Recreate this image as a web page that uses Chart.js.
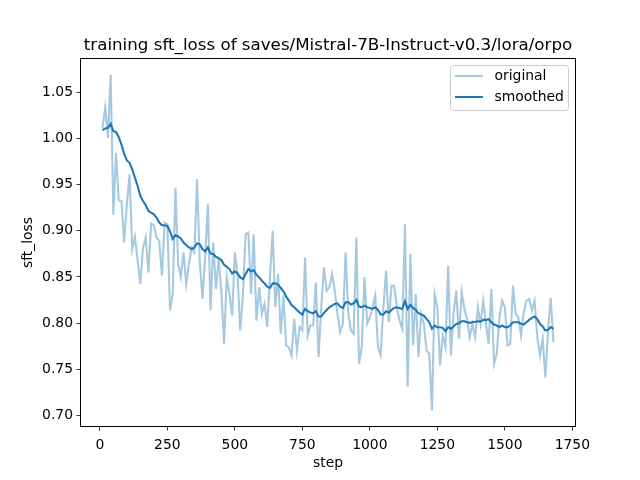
<!DOCTYPE html>
<html>
<head>
<meta charset="utf-8">
<script src="https://cdn.jsdelivr.net/npm/chart.js@4/dist/chart.umd.min.js"></script>
<style>
html,body{margin:0;padding:0;background:#fff;}
canvas{display:block;}
</style>
</head>
<body>
<canvas id="c" width="640" height="480" style="width:640px;height:480px"></canvas>
<script>
const titleText = "training sft_loss of saves/Mistral-7B-Instruct-v0.3/lora/orpo";
const xLabel = "step";
const yLabel = "sft_loss";
const seriesNames = ["original", "smoothed"];
const xTicks = [0, 250, 500, 750, 1000, 1250, 1500, 1750];
const yTicks = [0.70, 0.75, 0.80, 0.85, 0.90, 0.95, 1.00, 1.05];
const xRange = [-73.5, 1763.5];
const yRange = [0.6873, 1.0873];

const steps = [10,20,30,40,50,60,70,80,90,100,110,120,130,140,150,160,170,180,190,200,
210,220,230,240,250,260,270,280,290,300,310,320,330,340,350,360,370,380,390,400,
410,420,430,440,450,460,470,480,490,500,510,520,530,540,550,560,570,580,590,600,
610,620,630,640,650,660,670,680,690,700,710,720,730,740,750,760,770,780,790,800,
810,820,830,840,850,860,870,880,890,900,910,920,930,940,950,960,970,980,990,1000,
1010,1020,1030,1040,1050,1060,1070,1080,1090,1100,1110,1120,1130,1140,1150,1160,1170,1180,1190,1200,
1210,1220,1230,1240,1250,1260,1270,1280,1290,1300,1310,1320,1330,1340,1350,1360,1370,1380,1390,1400,
1410,1420,1430,1440,1450,1460,1470,1480,1490,1500,1510,1520,1530,1540,1550,1560,1570,1580,1590,1600,
1610,1620,1630,1640,1650,1660,1670,1680];

const original = [1.0115,1.0338,1.0007,1.0691,0.9172,0.9845,0.9330,0.9323,0.8873,0.9287,
0.9611,0.8801,0.8938,0.8675,0.8423,0.8819,0.8927,0.8549,0.9078,0.9064,
0.8927,0.8891,0.8513,0.9089,0.9071,0.8135,0.8315,0.9467,0.8640,0.8495,
0.8765,0.8423,0.8640,0.8819,0.8765,0.9557,0.8675,0.8261,0.8711,0.9294,
0.8135,0.8873,0.8369,0.8693,0.8351,0.7775,0.8495,0.8315,0.8081,0.8765,
0.8531,0.7919,0.8315,0.8963,0.8981,0.8315,0.8963,0.8027,0.8387,0.8099,
0.8207,0.7955,0.8495,0.8999,0.8171,0.8531,0.7883,0.8297,0.7757,0.7739,
0.7649,0.8045,0.7703,0.7955,0.7919,0.8711,0.7865,0.7973,0.7973,0.8441,
0.7631,0.8171,0.8603,0.8351,0.8387,0.8531,0.8351,0.8099,0.7901,0.7991,
0.8765,0.8099,0.7919,0.7883,0.8927,0.7559,0.7739,0.8495,0.7991,0.8063,
0.8171,0.8297,0.7739,0.7649,0.8171,0.8567,0.8009,0.8405,0.8405,0.8171,
0.8027,0.7937,0.9071,0.7310,0.8747,0.7757,0.8315,0.7631,0.8099,0.7991,
0.7703,0.7667,0.7055,0.8315,0.8171,0.7541,0.7865,0.7739,0.8621,0.7649,
0.8099,0.8351,0.7829,0.8333,0.8153,0.8045,0.7847,0.7991,0.7847,0.8171,
0.7991,0.8243,0.7991,0.7775,0.8369,0.7559,0.7667,0.8063,0.8243,0.8171,
0.7757,0.7775,0.8405,0.8099,0.8063,0.7865,0.8117,0.8243,0.8261,0.8135,
0.8243,0.7847,0.7649,0.7829,0.7410,0.7919,0.8272,0.7793];

const smoothed = [1.0090,1.0110,1.0115,1.0160,1.0080,1.0070,1.0014,0.9935,0.9834,0.9762,
0.9737,0.9665,0.9575,0.9485,0.9377,0.9323,0.9276,0.9215,0.9197,0.9179,
0.9143,0.9089,0.9060,0.9060,0.9053,0.8992,0.8910,0.8952,0.8938,0.8916,
0.8873,0.8845,0.8819,0.8801,0.8819,0.8862,0.8855,0.8801,0.8776,0.8819,
0.8754,0.8747,0.8718,0.8704,0.8682,0.8632,0.8610,0.8585,0.8538,0.8560,
0.8538,0.8495,0.8477,0.8531,0.8585,0.8560,0.8574,0.8524,0.8495,0.8459,
0.8430,0.8394,0.8380,0.8430,0.8430,0.8416,0.8380,0.8344,0.8286,0.8243,
0.8196,0.8171,0.8142,0.8114,0.8092,0.8153,0.8128,0.8114,0.8106,0.8128,
0.8070,0.8070,0.8110,0.8142,0.8171,0.8189,0.8207,0.8214,0.8178,0.8164,
0.8225,0.8225,0.8200,0.8214,0.8250,0.8178,0.8171,0.8189,0.8171,0.8164,
0.8153,0.8171,0.8142,0.8092,0.8092,0.8128,0.8114,0.8142,0.8164,0.8171,
0.8164,0.8153,0.8236,0.8153,0.8196,0.8164,0.8142,0.8106,0.8092,0.8081,
0.8045,0.8009,0.7937,0.7973,0.7955,0.7955,0.7948,0.7912,0.7955,0.7937,
0.7962,0.7991,0.7998,0.8020,0.8020,0.8009,0.8002,0.8009,0.8013,0.8020,
0.8016,0.8034,0.8034,0.8042,0.8009,0.7984,0.7973,0.7955,0.7973,0.7955,
0.7955,0.7973,0.8009,0.8009,0.8009,0.7991,0.7984,0.8009,0.8034,0.8056,
0.8070,0.8045,0.7991,0.7962,0.7919,0.7926,0.7955,0.7937];

const BLUE = "#1f77b4";
const LIGHT = "rgba(31,119,180,0.4)";
const FONT = "'DejaVu Sans', sans-serif";

function pts(ys){ return steps.map((s,i)=>({x:s, y:ys[i]})); }

const decor = {
  id: 'decor',
  afterDraw(chart){
    const ctx = chart.ctx, a = chart.chartArea;
    ctx.save();
    // frame
    ctx.strokeStyle = '#000';
    ctx.lineWidth = 1;
    ctx.strokeRect(Math.round(a.left)+0.5, Math.round(a.top)+0.5,
                   Math.round(a.right-a.left)-1, Math.round(a.bottom-a.top)-1);
    // title
    ctx.fillStyle = '#000';
    ctx.font = "16.7px " + FONT;
    ctx.textAlign = 'center';
    ctx.textBaseline = 'alphabetic';
    ctx.fillText(titleText, (a.left+a.right)/2, 50);
    // axis labels
    ctx.font = "13.9px " + FONT;
    ctx.textBaseline = 'top';
    ctx.fillText(xLabel, (a.left+a.right)/2, 456.5);
    ctx.save();
    ctx.translate(28, (a.top+a.bottom)/2);
    ctx.rotate(-Math.PI/2);
    ctx.textBaseline = 'middle';
    ctx.fillText(yLabel, 0, 0);
    ctx.restore();
    // legend
    const lx = 450.5, ly = 65.5, lw = 118, lh = 45, r = 3;
    ctx.beginPath();
    ctx.moveTo(lx+r, ly);
    ctx.lineTo(lx+lw-r, ly); ctx.arcTo(lx+lw, ly, lx+lw, ly+r, r);
    ctx.lineTo(lx+lw, ly+lh-r); ctx.arcTo(lx+lw, ly+lh, lx+lw-r, ly+lh, r);
    ctx.lineTo(lx+r, ly+lh); ctx.arcTo(lx, ly+lh, lx, ly+lh-r, r);
    ctx.lineTo(lx, ly+r); ctx.arcTo(lx, ly, lx+r, ly, r);
    ctx.closePath();
    ctx.fillStyle = 'rgba(255,255,255,0.8)';
    ctx.fill();
    ctx.strokeStyle = '#cccccc';
    ctx.lineWidth = 1;
    ctx.stroke();
    const rows = [[seriesNames[0], LIGHT, 76], [seriesNames[1], BLUE, 97]];
    ctx.lineWidth = 2.08;
    ctx.textAlign = 'left';
    ctx.textBaseline = 'middle';
    ctx.font = "13.9px " + FONT;
    rows.forEach(([t, c, y]) => {
      ctx.strokeStyle = c;
      ctx.beginPath(); ctx.moveTo(455, y); ctx.lineTo(483, y); ctx.stroke();
      ctx.fillStyle = '#000';
      ctx.fillText(t, 494.5, y);
    });
    ctx.restore();
  }
};

new Chart(document.getElementById('c'), {
  type: 'line',
  data: {
    datasets: [
      { label: seriesNames[0], data: pts(original), borderColor: LIGHT, borderWidth: 2.08,
        pointRadius: 0, tension: 0, fill: false },
      { label: seriesNames[1], data: pts(smoothed), borderColor: BLUE, borderWidth: 2.08,
        pointRadius: 0, tension: 0, fill: false }
    ]
  },
  options: {
    responsive: false,
    animation: false,
    devicePixelRatio: 1,
    layout: { padding: { left: 0, top: 58, right: 64, bottom: 0 } },
    plugins: { legend: { display: false }, title: { display: false }, tooltip: { enabled: false } },
    scales: {
      x: {
        type: 'linear', min: xRange[0], max: xRange[1],
        afterBuildTicks: s => { s.ticks = xTicks.map(v => ({ value: v })); },
        afterFit: s => { s.height = 53; },
        border: { display: false },
        grid: { display: true, drawOnChartArea: false, drawTicks: true, tickLength: 3.5, tickColor: '#000', tickWidth: 0.8 },
        ticks: { padding: 6.5, color: '#000', font: { family: FONT, size: 13.9 }, maxRotation: 0, autoSkip: false,
                 callback: v => String(v) }
      },
      y: {
        type: 'linear', min: yRange[0], max: yRange[1],
        afterBuildTicks: s => { s.ticks = yTicks.map(v => ({ value: v })); },
        afterFit: s => { s.width = 80; },
        border: { display: false },
        grid: { display: true, drawOnChartArea: false, drawTicks: true, tickLength: 3.5, tickColor: '#000', tickWidth: 0.8 },
        ticks: { padding: 3.5, color: '#000', font: { family: FONT, size: 13.9 }, autoSkip: false,
                 callback: v => Number(v).toFixed(2) }
      }
    }
  },
  plugins: [decor]
});
</script>
</body>
</html>
